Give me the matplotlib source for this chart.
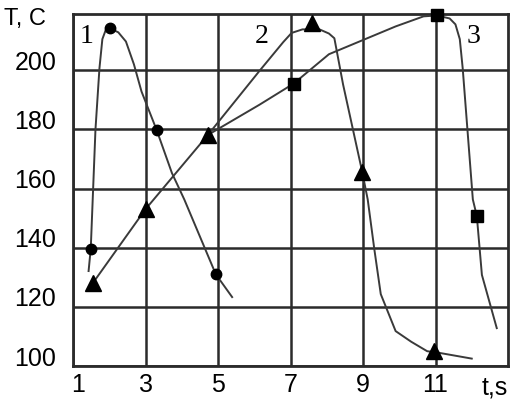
import matplotlib
matplotlib.use("Agg")
import matplotlib.pyplot as plt
from matplotlib.transforms import ScaledTranslation

# ---- data ----
x_ticks = [1, 3, 5, 7, 9, 11]
x_tick_labels = ["1", "3", "5", "7", "9", "11"]
y_ticks = [100, 120, 140, 160, 180, 200]
y_tick_labels = ["100", "120", "140", "160", "180", "200"]

# curve 1 (circles)
c1_line_t = [1.43, 1.49, 1.62, 1.73, 1.81, 1.9, 2.03, 2.25, 2.46, 2.68, 2.89, 3.31, 3.73, 4.07, 4.94, 5.39]
c1_line_T = [132.1, 139.7, 180.0, 200.7, 210.5, 213.5, 214.1, 212.8, 209.7, 202.0, 192.8, 179.7, 165.2, 156.3, 131.0, 123.3]
c1_mark_t = [1.49, 2.03, 3.31, 4.94]
c1_mark_T = [139.7, 214.1, 179.7, 131.0]

# curve 2 (triangles)
c2_line_t = [1.54, 3.0, 4.72, 6.14, 6.8, 7.03, 7.33, 7.8, 8.06, 8.21, 8.45, 8.97, 9.13, 9.31, 9.49,
             9.9, 10.33, 10.77, 11.03, 12.0]
c2_line_T = [127.9, 153.0, 178.1, 199.7, 209.5, 212.6, 213.8, 213.8, 212.4, 210.8, 195.2, 166.1, 156.3,
             139.7, 124.3, 111.8, 108.2, 105.0, 104.6, 102.5]
c2_mark_t = [1.54, 3.0, 4.72, 7.58, 8.97, 10.97]
c2_mark_T = [127.9, 153.0, 178.1, 215.8, 165.5, 105.0]

# curve 3 (squares)
c3_line_t = [4.72, 6.14, 7.09, 8.06, 9.9, 10.67, 11.03, 11.39, 11.55, 11.67, 11.75, 12.03, 12.14,
             12.28, 12.69]
c3_line_T = [178.1, 188.3, 195.5, 205.4, 214.8, 218.2, 218.5, 217.5, 215.5, 210.5, 200.7, 156.3,
             150.7, 130.8, 112.8]
c3_mark_t = [7.09, 11.03, 12.14]
c3_mark_T = [195.5, 218.5, 150.7]

curve_labels = ["1", "2", "3"]
curve_label_t = [1.38, 6.2, 12.05]
curve_label_T = [211.5, 211.5, 211.5]

# ---- figure ----
W, H = 519, 404
fig = plt.figure(figsize=(W / 100, H / 100), dpi=100)
ax = fig.add_axes([73 / W, 38 / H, 435 / W, 352 / H])
ax.set_xlim(1, 13)
ax.set_ylim(100, 219)

grid_c = "#2b2b2b"
ax.set_xticks(x_ticks)
ax.set_xticklabels(x_tick_labels)
ax.set_yticks(y_ticks)
ax.set_yticklabels(y_tick_labels)
ax.grid(True, color=grid_c, lw=1.8)
for s in ax.spines.values():
    s.set_color(grid_c)
    s.set_linewidth(2)
ax.tick_params(length=0, labelsize=18, colors="black")
ax.tick_params(axis="x", pad=5)
ax.tick_params(axis="y", pad=12)
for lab in ax.get_xticklabels() + ax.get_yticklabels():
    lab.set_fontfamily("Liberation Sans")
for lab in ax.get_yticklabels():
    lab.set_transform(lab.get_transform() + ScaledTranslation(0, 10 / 100, fig.dpi_scale_trans))
ax.get_xticklabels()[0].set_transform(
    ax.get_xticklabels()[0].get_transform() + ScaledTranslation(5 / 100, 0, fig.dpi_scale_trans))

line_c = "#3a3a3a"
ax.plot(c1_line_t, c1_line_T, color=line_c, lw=1.4, zorder=3)
ax.plot(c2_line_t, c2_line_T, color=line_c, lw=1.4, zorder=3)
ax.plot(c3_line_t, c3_line_T, color=line_c, lw=1.4, zorder=3)
ax.plot(c1_mark_t, c1_mark_T, "o", color="black", ms=7.5, ls="none", zorder=4, clip_on=False)
ax.plot(c2_mark_t, c2_mark_T, "^", color="black", ms=11, ls="none", zorder=4, clip_on=False)
ax.plot(c3_mark_t, c3_mark_T, "s", color="black", ms=8, ls="none", zorder=4, clip_on=False)

for lab, t, T in zip(curve_labels, curve_label_t, curve_label_T):
    ax.text(t, T, lab, fontsize=20, family="Liberation Serif", ha="center", va="center",
            zorder=5)

fig.text(4 / W, 1 - 19 / H, "T, C", fontsize=17, family="Liberation Sans",
         ha="left", va="center")
fig.text(495 / W, 1 - 388 / H, "t,s", fontsize=18, family="Liberation Sans",
         ha="center", va="center")

fig.savefig("out.png", dpi=100)
